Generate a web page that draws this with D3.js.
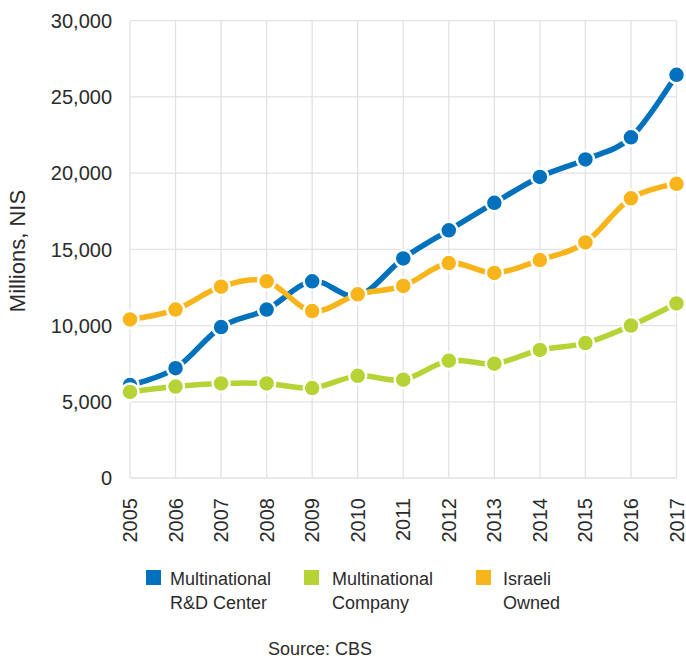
<!DOCTYPE html>
<html>
<head>
<meta charset="utf-8">
<script src="https://cdn.jsdelivr.net/npm/d3@7"></script>
<style>
  body { margin: 0; background: #fff; }
  svg text { font-family: "Liberation Sans", Arial, Helvetica, sans-serif; fill: #2b2b2b; }
</style>
</head>
<body>
<div id="chart"></div>
<script>
var years = [2005, 2006, 2007, 2008, 2009, 2010, 2011, 2012, 2013, 2014, 2015, 2016, 2017];
var rdCenter = [6100, 7200, 9900, 11050, 12900, 11950, 14400, 16250, 18050, 19750, 20900, 22350, 26450];
var mncCompany = [5650, 6000, 6200, 6200, 5900, 6700, 6450, 7700, 7500, 8400, 8850, 10000, 11450];
var israeliOwned = [10400, 11050, 12550, 12900, 10950, 12050, 12600, 14100, 13450, 14300, 15450, 18350, 19300];
var yTicks = [0, 5000, 10000, 15000, 20000, 25000, 30000];
var seriesNames = [["Multinational", "R&D Center"], ["Multinational", "Company"], ["Israeli", "Owned"]];
var seriesColors = ["#0071bc", "#b5d334", "#f8b51b"];

var chartW = 686, chartH = 659;
var plotLeft = 130, plotRight = 676.5, plotTop = 20.7, plotBottom = 478;

var svg = d3.select("#chart").append("svg")
    .attr("width", chartW)
    .attr("height", chartH);

var x = d3.scalePoint().domain(years).range([plotLeft, plotRight]);
var y = d3.scaleLinear().domain([0, 30000]).range([plotBottom, plotTop]);

// grid
svg.append("g").selectAll("line")
    .data(yTicks).enter().append("line")
    .attr("x1", plotLeft).attr("x2", plotRight)
    .attr("y1", function(d){ return y(d); }).attr("y2", function(d){ return y(d); })
    .style("stroke", "#e2e2e6").style("stroke-width", 1.3);

svg.append("g").selectAll("line")
    .data(years).enter().append("line")
    .attr("x1", function(d){ return x(d); }).attr("x2", function(d){ return x(d); })
    .attr("y1", plotTop).attr("y2", plotBottom)
    .style("stroke", "#e2e2e6").style("stroke-width", 1.3);

// y axis labels
svg.append("g").selectAll("text")
    .data(yTicks).enter().append("text")
    .attr("x", 112)
    .attr("y", function(d){ return y(d); })
    .attr("dy", "0.36em")
    .attr("text-anchor", "end")
    .style("font-size", "20px")
    .text(function(d){ return d3.format(",")(d); });

// x axis labels (rotated)
svg.append("g").selectAll("text")
    .data(years).enter().append("text")
    .attr("transform", function(d){ return "translate(" + (x(d) + 7) + "," + 498 + ") rotate(-90)"; })
    .attr("text-anchor", "end")
    .style("font-size", "20px")
    .text(function(d){ return d; });

svg.append("text")
    .attr("transform", "translate(25,251) rotate(-90)")
    .attr("text-anchor", "middle")
    .style("font-size", "22px")
    .text("Millions, NIS");

var line = d3.line()
    .x(function(d, i){ return x(years[i]); })
    .y(function(d){ return y(d); })
    .curve(d3.curveCardinal);

[rdCenter, mncCompany, israeliOwned].forEach(function(values, s){
    var g = svg.append("g");
    g.append("path")
        .attr("d", line(values))
        .style("fill", "none")
        .style("stroke", seriesColors[s])
        .style("stroke-width", 5.5);
    g.selectAll("circle")
        .data(values).enter().append("circle")
        .attr("cx", function(d, i){ return x(years[i]); })
        .attr("cy", function(d){ return y(d); })
        .attr("r", 8.5)
        .style("fill", seriesColors[s])
        .style("stroke", "#fff")
        .style("stroke-width", 2.5);
});

// legend
var legendX = [146, 304, 476];
var legend = svg.append("g").selectAll("g")
    .data(seriesNames).enter().append("g")
    .attr("transform", function(d, i){ return "translate(" + legendX[i] + ",570)"; });

legend.append("rect")
    .attr("width", 15).attr("height", 15)
    .style("fill", function(d, i){ return seriesColors[i]; });

legend.append("text")
    .attr("x", function(d, i){ return [24, 28, 27][i]; })
    .attr("y", 15)
    .style("font-size", "18px")
    .selectAll("tspan")
    .data(function(d){ return d; }).enter().append("tspan")
    .attr("x", function(){ return d3.select(this.parentNode).attr("x"); })
    .attr("dy", function(d, i){ return i ? 24 : 0; })
    .text(function(d){ return d; });

svg.append("text")
    .attr("x", 320).attr("y", 655)
    .attr("text-anchor", "middle")
    .style("font-size", "18px")
    .text("Source: CBS");
</script>
</body>
</html>
